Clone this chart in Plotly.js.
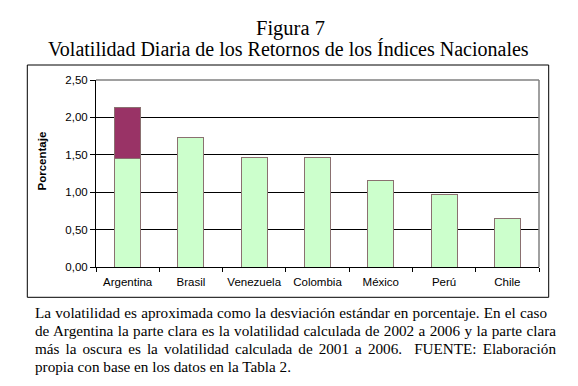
<!DOCTYPE html>
<html>
<head>
<meta charset="utf-8">
<script src="https://cdn.plot.ly/plotly-3.0.1.min.js"></script>
<style>
html, body { margin: 0; padding: 0; background: #fff; }
#chart { width: 578px; height: 386px; }
</style>
</head>
<body>
<div id="chart"></div>
<script>
// ---- data ----
var countries = ["Argentina", "Brasil", "Venezuela", "Colombia", "México", "Perú", "Chile"];
var vol2002_2006 = [1.45, 1.73, 1.47, 1.46, 1.16, 0.97, 0.65];   // parte clara
var extra2001 = [0.68, null, null, null, null, null, null];      // parte oscura (2001-2006 minus clara)
var yTickVals = [0, 0.5, 1, 1.5, 2, 2.5];
var yTickText = ["0,00", "0,50", "1,00", "1,50", "2,00", "2,50"];
var titleLine1 = "Figura 7";
var titleLine2 = "Volatilidad Diaria de los Retornos de los Índices Nacionales";
var yTitle = "Porcentaje";
var captionLines = [
  "La volatilidad es aproximada como la desviación estándar en porcentaje. En el caso",
  "de Argentina la parte clara es la volatilidad calculada de 2002 a 2006 y la parte clara",
  "más la oscura es la volatilidad calculada de 2001 a 2006.  FUENTE: Elaboración",
  "propia con base en los datos en la Tabla 2."
];

var barLine = {color: "#8a7070", width: 1};
var traces = [
  {type: "bar", x: countries, y: vol2002_2006, name: "2002-2006",
   marker: {color: "#ccffcc", line: barLine}, hoverinfo: "skip"},
  {type: "bar", x: countries, y: extra2001, name: "2001-2006",
   marker: {color: "#993366", line: barLine}, hoverinfo: "skip"}
];

var W = 578, H = 386, L = 96, R = 39, T = 80, B = 119;
var pw = W - L - R, ph = H - T - B;
function px(x) { return (x - L) / pw; }
function py(y) { return (H - B - y) / ph; }

var serif = "Liberation Serif, Times New Roman, serif";
var annotations = [
  {text: titleLine1, xref: "paper", yref: "paper", x: px(290), y: py(28.5), xanchor: "center", yanchor: "middle",
   showarrow: false, font: {family: serif, size: 20.5, color: "#000"}},
  {text: titleLine2, xref: "paper", yref: "paper", x: px(288.5), y: py(48.5), xanchor: "center", yanchor: "middle",
   showarrow: false, font: {family: serif, size: 20, color: "#000"}},
  {text: "<b>" + yTitle + "</b>", xref: "paper", yref: "paper", x: px(41.5), y: py(161), xanchor: "center", yanchor: "middle",
   textangle: -90, showarrow: false, font: {family: "Liberation Sans, Arial, sans-serif", size: 11.5, color: "#000"}}
];
var capY = [312, 330, 348, 366];
captionLines.forEach(function (t, i) {
  annotations.push({text: t, xref: "paper", yref: "paper", x: px(33.3), y: py(capY[i]), xanchor: "left", yanchor: "middle",
    showarrow: false, font: {family: serif, size: 15.2, color: "#000"}});
});

var layout = {
  width: W, height: H,
  margin: {l: L, r: R, t: T, b: B, pad: 0},
  paper_bgcolor: "#fff", plot_bgcolor: "#fff",
  barmode: "stack", bargap: 0.59,
  showlegend: false,
  separators: ",.",
  font: {family: "Liberation Sans, Arial, sans-serif", size: 11.5, color: "#000"},
  xaxis: {type: "category", showline: true, linecolor: "#000", linewidth: 1, tickangle: 0,
          ticks: "outside", tickson: "boundaries", ticklen: 4, tickcolor: "#000", ticklabelstandoff: 4,
          showgrid: false, zeroline: false, tickfont: {size: 11.5}, fixedrange: true},
  yaxis: {range: [0, 2.5], tickvals: yTickVals, ticktext: yTickText, showline: true, linecolor: "#000", linewidth: 1,
          ticks: "outside", ticklen: 5, tickcolor: "#000", showgrid: true, gridcolor: "#000", gridwidth: 1,
          zeroline: false, tickfont: {size: 11.5}, fixedrange: true},
  annotations: annotations,
  shapes: [
    {type: "line", xref: "paper", yref: "paper", x0: 0, x1: 1, y0: 1, y1: 1, line: {color: "#808080", width: 1.5}},
    {type: "line", xref: "paper", yref: "paper", x0: 1, x1: 1, y0: 0, y1: 1, line: {color: "#808080", width: 1.5}},
    {type: "rect", xref: "paper", yref: "paper", x0: px(27.3), x1: px(548.7), y0: py(297.3), y1: py(65),
     line: {color: "#000", width: 1}, fillcolor: "rgba(0,0,0,0)", layer: "above"}
  ]
};

Plotly.newPlot("chart", traces, layout, {staticPlot: true, displayModeBar: false}).then(function () {
  // justify the first three caption lines like the original paragraph
  var targets = [512, 521, 521];
  var texts = document.querySelectorAll("#chart .annotation-text");
  texts.forEach(function (el) {
    var idx = captionLines.indexOf(el.textContent);
    if (idx < 0) return;
    var bb = el.getBBox();
    el.setAttribute("text-anchor", "start");
    el.setAttribute("x", bb.x);
    el.querySelectorAll("tspan[x]").forEach(function (ts) { ts.setAttribute("x", bb.x); });
    if (idx < 3) {
      var w = el.getComputedTextLength();
      var spaces = (el.textContent.match(/ /g) || []).length;
      if (spaces > 0) {
        el.style.wordSpacing = ((targets[idx] - w) / spaces) + "px";
      }
    }
  });
});
</script>
</body>
</html>
